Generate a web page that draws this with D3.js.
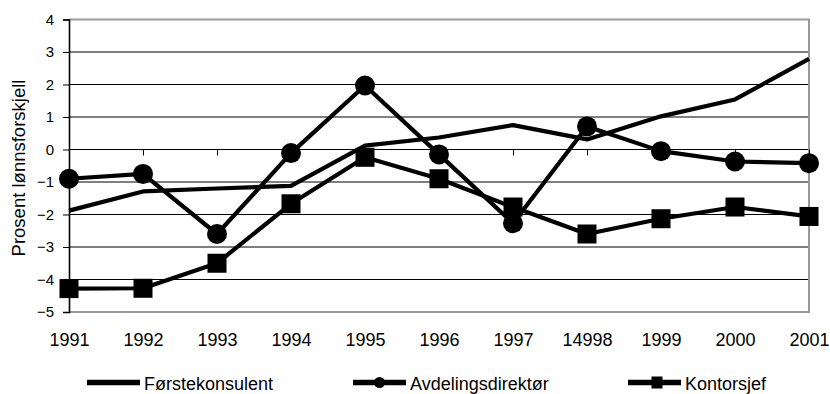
<!DOCTYPE html>
<html>
<head>
<meta charset="utf-8">
<script src="https://cdn.jsdelivr.net/npm/d3@7/dist/d3.min.js"></script>
<style>
  html, body { margin: 0; padding: 0; background: #fff; }
  svg { display: block; font-family: "Liberation Sans", Arial, sans-serif; }
</style>
</head>
<body>
<svg id="chart" width="830" height="394"></svg>
<script>
// Years along the category axis (label text as printed)
const categories = ["1991", "1992", "1993", "1994", "1995", "1996", "1997", "14998", "1999", "2000", "2001"];

// Percentage wage difference per position
const forstekonsulent   = [-1.88, -1.29, -1.2, -1.12, 0.12, 0.37, 0.75, 0.31, 1.02, 1.54, 2.79];
const avdelingsdirektor = [-0.9, -0.75, -2.6, -0.11, 1.97, -0.15, -2.27, 0.71, -0.05, -0.37, -0.42];
const kontorsjef        = [-4.28, -4.27, -3.5, -1.67, -0.24, -0.9, -1.77, -2.6, -2.13, -1.77, -2.06];

const yTicks = [-5, -4, -3, -2, -1, 0, 1, 2, 3, 4];
const seriesNames = ["Førstekonsulent", "Avdelingsdirektør", "Kontorsjef"];
const yTitle = "Prosent lønnsforskjell";

const svg = d3.select("#chart");
const plotLeft = 69, plotRight = 809, plotTop = 19.5, plotBottom = 312;

const x = d3.scalePoint().domain(categories).range([plotLeft, plotRight]);
const y = d3.scaleLinear().domain([-5, 4]).range([plotBottom, plotTop]);

// Horizontal gridlines
svg.append("g")
  .selectAll("line")
  .data(yTicks.filter(v => v > -5 && v < 4))
  .join("line")
  .attr("x1", plotLeft).attr("x2", plotRight)
  .attr("y1", d => y(d)).attr("y2", d => y(d))
  .attr("stroke", "#000").attr("stroke-width", 1);

// Plot frame (top, right, bottom) in gray
svg.append("path")
  .attr("d", `M${plotLeft},${y(4)} H${plotRight} V${y(-5)} H${plotLeft}`)
  .attr("fill", "none").attr("stroke", "#999").attr("stroke-width", 2);

// Value axis
const yAxis = svg.append("g")
  .attr("transform", `translate(${plotLeft},0)`)
  .call(d3.axisLeft(y).tickValues(yTicks).tickSize(6).tickPadding(9).tickFormat(d3.format("d")));
yAxis.select(".domain").attr("stroke", "#000").attr("stroke-width", 1.6);
yAxis.selectAll(".tick line").attr("stroke", "#000");
yAxis.selectAll("text").attr("font-size", 15).attr("fill", "#000")
  .attr("font-family", "Liberation Sans, Arial, sans-serif");

// Category tick marks along the zero line
const xTicks = svg.append("g")
  .attr("transform", `translate(0,${y(0)})`)
  .call(d3.axisBottom(x).tickSize(6).tickFormat(""));
xTicks.select(".domain").remove();
xTicks.selectAll(".tick line").attr("stroke", "#000");

// Category labels below the plot
const xLabels = svg.append("g")
  .attr("transform", `translate(0,${plotBottom})`)
  .call(d3.axisBottom(x).tickSize(0).tickPadding(21));
xLabels.select(".domain").remove();
xLabels.selectAll("text").attr("font-size", 18).attr("fill", "#000")
  .attr("font-family", "Liberation Sans, Arial, sans-serif");

// Axis title
svg.append("text")
  .attr("transform", "translate(25,168) rotate(-90)")
  .attr("text-anchor", "middle")
  .attr("font-size", 18.5)
  .text(yTitle);

// Lines
const line = d3.line().x((d, i) => x(categories[i])).y(d => y(d));
const data = [forstekonsulent, avdelingsdirektor, kontorsjef];
svg.append("g")
  .selectAll("path")
  .data(data)
  .join("path")
  .attr("d", line)
  .attr("fill", "none")
  .attr("stroke", "#000")
  .attr("stroke-width", 4.2)
  .attr("stroke-linejoin", "round");

// Circle markers
svg.append("g")
  .selectAll("circle")
  .data(avdelingsdirektor)
  .join("circle")
  .attr("cx", (d, i) => x(categories[i]))
  .attr("cy", d => y(d))
  .attr("r", 10)
  .attr("fill", "#000");

// Square markers
const sq = 19;
svg.append("g")
  .selectAll("rect")
  .data(kontorsjef)
  .join("rect")
  .attr("x", (d, i) => x(categories[i]) - sq / 2)
  .attr("y", d => y(d) - sq / 2)
  .attr("width", sq).attr("height", sq)
  .attr("fill", "#000");

// Legend
const legendX = [87, 353, 628];
const legendY = 382.5;
const lg = svg.append("g");
seriesNames.forEach((name, i) => {
  const x0 = legendX[i];
  lg.append("line")
    .attr("x1", x0).attr("x2", x0 + 53)
    .attr("y1", legendY).attr("y2", legendY)
    .attr("stroke", "#000").attr("stroke-width", 5.5);
  if (i === 1) {
    lg.append("circle").attr("cx", x0 + 26.5).attr("cy", legendY).attr("r", 5.5).attr("fill", "#000");
  } else if (i === 2) {
    lg.append("rect").attr("x", x0 + 23.5).attr("y", legendY - 6).attr("width", 11).attr("height", 12).attr("fill", "#000");
  }
  lg.append("text")
    .attr("x", x0 + 57)
    .attr("y", 390)
    .attr("font-size", 18)
    .text(name);
});
</script>
</body>
</html>
